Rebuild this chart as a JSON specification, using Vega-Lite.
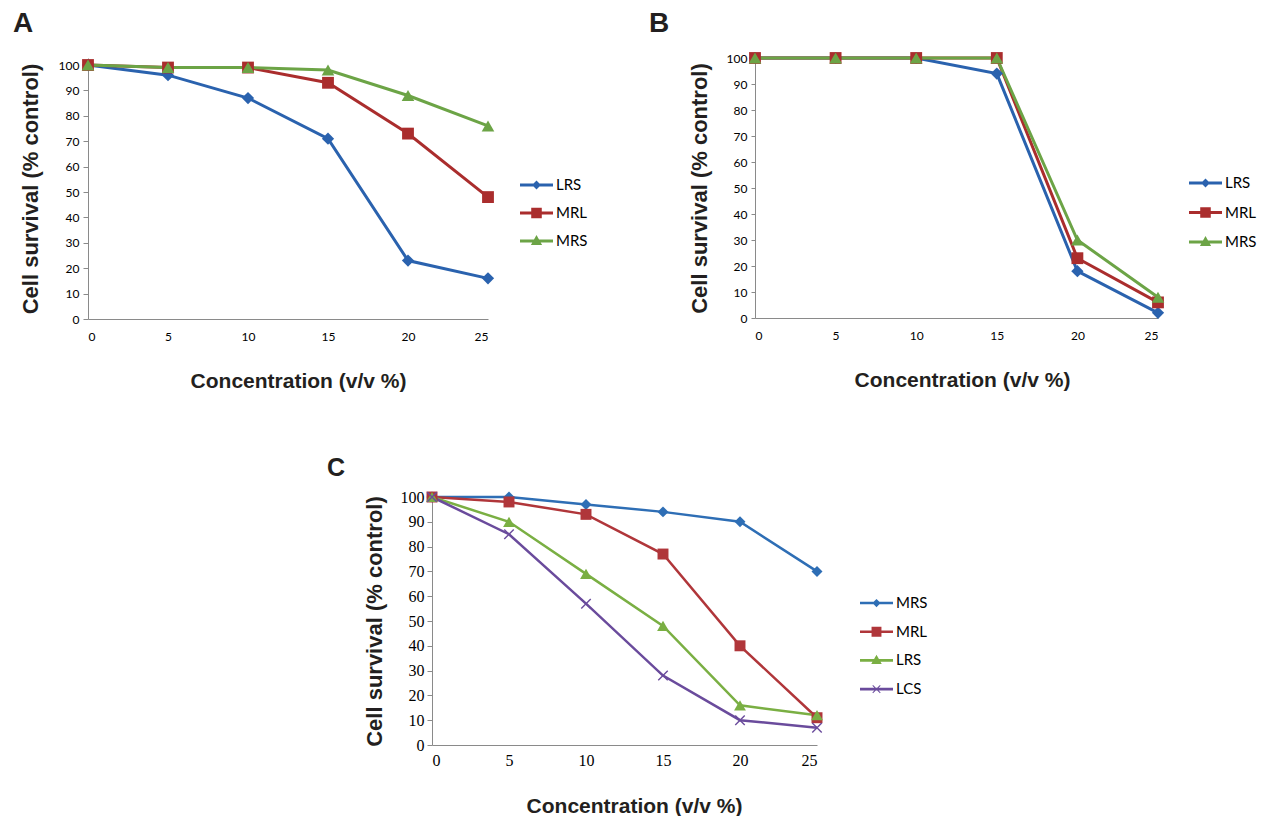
{
  "$schema": "https://vega.github.io/schema/vega-lite/v6.json",
  "background": "white",
  "padding": {"left": 13, "top": 9, "right": 2, "bottom": 0},
  "datasets": {
    "A": [
      {"series": "LRS", "conc": 0, "survival": 100}, {"series": "LRS", "conc": 5, "survival": 96}, {"series": "LRS", "conc": 10, "survival": 87}, {"series": "LRS", "conc": 15, "survival": 71}, {"series": "LRS", "conc": 20, "survival": 23}, {"series": "LRS", "conc": 25, "survival": 16},
      {"series": "MRL", "conc": 0, "survival": 100}, {"series": "MRL", "conc": 5, "survival": 99}, {"series": "MRL", "conc": 10, "survival": 99}, {"series": "MRL", "conc": 15, "survival": 93}, {"series": "MRL", "conc": 20, "survival": 73}, {"series": "MRL", "conc": 25, "survival": 48},
      {"series": "MRS", "conc": 0, "survival": 100}, {"series": "MRS", "conc": 5, "survival": 99}, {"series": "MRS", "conc": 10, "survival": 99}, {"series": "MRS", "conc": 15, "survival": 98}, {"series": "MRS", "conc": 20, "survival": 88}, {"series": "MRS", "conc": 25, "survival": 76}
    ],
    "B": [
      {"series": "LRS", "conc": 0, "survival": 100}, {"series": "LRS", "conc": 5, "survival": 100}, {"series": "LRS", "conc": 10, "survival": 100}, {"series": "LRS", "conc": 15, "survival": 94}, {"series": "LRS", "conc": 20, "survival": 18}, {"series": "LRS", "conc": 25, "survival": 2},
      {"series": "MRL", "conc": 0, "survival": 100}, {"series": "MRL", "conc": 5, "survival": 100}, {"series": "MRL", "conc": 10, "survival": 100}, {"series": "MRL", "conc": 15, "survival": 100}, {"series": "MRL", "conc": 20, "survival": 23}, {"series": "MRL", "conc": 25, "survival": 6},
      {"series": "MRS", "conc": 0, "survival": 100}, {"series": "MRS", "conc": 5, "survival": 100}, {"series": "MRS", "conc": 10, "survival": 100}, {"series": "MRS", "conc": 15, "survival": 100}, {"series": "MRS", "conc": 20, "survival": 30}, {"series": "MRS", "conc": 25, "survival": 8}
    ],
    "C": [
      {"series": "MRS", "conc": 0, "survival": 100}, {"series": "MRS", "conc": 5, "survival": 100}, {"series": "MRS", "conc": 10, "survival": 97}, {"series": "MRS", "conc": 15, "survival": 94}, {"series": "MRS", "conc": 20, "survival": 90}, {"series": "MRS", "conc": 25, "survival": 70},
      {"series": "MRL", "conc": 0, "survival": 100}, {"series": "MRL", "conc": 5, "survival": 98}, {"series": "MRL", "conc": 10, "survival": 93}, {"series": "MRL", "conc": 15, "survival": 77}, {"series": "MRL", "conc": 20, "survival": 40}, {"series": "MRL", "conc": 25, "survival": 11},
      {"series": "LRS", "conc": 0, "survival": 100}, {"series": "LRS", "conc": 5, "survival": 90}, {"series": "LRS", "conc": 10, "survival": 69}, {"series": "LRS", "conc": 15, "survival": 48}, {"series": "LRS", "conc": 20, "survival": 16}, {"series": "LRS", "conc": 25, "survival": 12},
      {"series": "LCS", "conc": 0, "survival": 100}, {"series": "LCS", "conc": 5, "survival": 85}, {"series": "LCS", "conc": 10, "survival": 57}, {"series": "LCS", "conc": 15, "survival": 28}, {"series": "LCS", "conc": 20, "survival": 10}, {"series": "LCS", "conc": 25, "survival": 7}
    ]
  },
  "config": {
    "view": {"stroke": null},
    "axis": {"grid": false, "domainColor": "#8a8a8a", "tickColor": "#8a8a8a", "labelColor": "#000000", "titleColor": "#231f20", "titleFont": "Liberation Sans", "titleFontWeight": "bold", "labelFont": "Lato", "labelFontSize": 12},
    "legend": {"labelFont": "Lato", "labelFontSize": 15, "labelColor": "#000000"},
    "title": {"font": "Liberation Sans", "fontWeight": "bold", "color": "#231f20", "anchor": "start", "frame": "group"}
  },
  "spacing": 65,
  "resolve": {"scale": {"color": "independent", "fill": "independent", "shape": "independent"}},
  "vconcat": [
    {
      "spacing": 61,
      "resolve": {"scale": {"color": "independent", "fill": "independent", "shape": "independent"}},
      "hconcat": [
        {
          "title": {"text": "A", "dx": -75, "offset": 20, "fontSize": 28},
          "width": 400, "height": 261,
          "data": {"name": "A"},
          "encoding": {
            "x": {"field": "conc", "type": "quantitative", "scale": {"domain": [0, 25], "nice": false, "zero": false},
                  "axis": {"values": [0, 5, 10, 15, 20, 25], "title": "Concentration (v/v %)", "ticks": false, "tickSize": 0, "labelPadding": 12, "titlePadding": 28, "titleFontSize": 21, "titleX": 210}},
            "y": {"field": "survival", "type": "quantitative", "scale": {"domain": [0, 102.76], "nice": false},
                  "axis": {"values": [0, 10, 20, 30, 40, 50, 60, 70, 80, 90, 100], "title": "Cell survival (% control)", "tickSize": 5, "labelPadding": 4, "titlePadding": 16, "titleFontSize": 22}}
          },
          "layer": [
            {"mark": {"type": "line", "strokeWidth": 3}, "encoding": {"color": {"field": "series", "type": "nominal", "scale": {"domain": ["MRS", "MRL", "LRS"], "range": ["#6CA446", "#AA2D2D", "#2A62AE"]}, "legend": null}}},
            {"transform": [{"filter": "datum.series === 'LRS'"}], "mark": {"type": "point", "shape": "diamond", "filled": true, "opacity": 1, "size": 150, "strokeWidth": 0}, "encoding": {"color": {"field": "series", "type": "nominal", "scale": {"domain": ["MRS", "MRL", "LRS"], "range": ["#6CA446", "#AA2D2D", "#2A62AE"]}, "legend": null}}},
            {"transform": [{"filter": "datum.series === 'MRL'"}], "mark": {"type": "point", "shape": "square", "filled": true, "opacity": 1, "size": 140, "strokeWidth": 0}, "encoding": {"color": {"field": "series", "type": "nominal", "scale": {"domain": ["MRS", "MRL", "LRS"], "range": ["#6CA446", "#AA2D2D", "#2A62AE"]}, "legend": null}}},
            {"transform": [{"filter": "datum.series === 'MRS'"}], "mark": {"type": "point", "shape": "triangle-up", "filled": true, "opacity": 1, "size": 160, "strokeWidth": 0}, "encoding": {"color": {"field": "series", "type": "nominal", "scale": {"domain": ["MRS", "MRL", "LRS"], "range": ["#6CA446", "#AA2D2D", "#2A62AE"]}, "legend": null}}},
            {"mark": {"type": "point", "filled": true, "opacity": 0},
             "encoding": {
               "fill": {"field": "series", "type": "nominal", "scale": {"domain": ["LRS", "MRL", "MRS"], "range": ["#2A62AE", "#AA2D2D", "#6CA446"]},
                        "legend": {"title": null, "orient": "none", "legendX": 432, "legendY": 119, "direction": "vertical", "symbolSize": 1089, "symbolStrokeWidth": 0, "clipHeight": 16, "rowPadding": 12, "labelOffset": 3, "padding": 0, "symbolOpacity": 1}},
               "shape": {"field": "series", "type": "nominal", "scale": {"domain": ["LRS", "MRL", "MRS"], "range": [
                  "M-1,-0.09L1,-0.09L1,0.09L-1,0.09Z M0,-0.27L0.27,0L0,0.27L-0.27,0Z",
                  "M-1,-0.09L1,-0.09L1,0.09L-1,0.09Z M-0.32,-0.32L0.32,-0.32L0.32,0.32L-0.32,0.32Z",
                  "M-1,-0.09L1,-0.09L1,0.09L-1,0.09Z M0,-0.36L0.34,0.24L-0.34,0.24Z"]},
                        "legend": {"title": null, "orient": "none", "legendX": 432, "legendY": 119, "direction": "vertical", "symbolSize": 1089, "symbolStrokeWidth": 0, "clipHeight": 16, "rowPadding": 12, "labelOffset": 3, "padding": 0, "symbolOpacity": 1}}
             }}
          ]
        },
        {
          "title": {"text": "B", "dx": -106, "offset": 14, "fontSize": 28},
          "width": 403, "height": 260,
          "data": {"name": "B"},
          "encoding": {
            "x": {"field": "conc", "type": "quantitative", "scale": {"domain": [0, 25], "nice": false, "zero": false},
                  "axis": {"values": [0, 5, 10, 15, 20, 25], "title": "Concentration (v/v %)", "ticks": false, "tickSize": 0, "labelPadding": 12, "titlePadding": 28, "titleFontSize": 21, "titleX": 207}},
            "y": {"field": "survival", "type": "quantitative", "scale": {"domain": [0, 100], "nice": false},
                  "axis": {"values": [0, 10, 20, 30, 40, 50, 60, 70, 80, 90, 100], "title": "Cell survival (% control)", "tickSize": 4, "labelPadding": 4, "titlePadding": 15, "titleFontSize": 22}}
          },
          "layer": [
            {"mark": {"type": "line", "strokeWidth": 3}, "encoding": {"color": {"field": "series", "type": "nominal", "scale": {"domain": ["MRS", "MRL", "LRS"], "range": ["#6CA446", "#AA2D2D", "#2A62AE"]}, "legend": null}}},
            {"transform": [{"filter": "datum.series === 'LRS'"}], "mark": {"type": "point", "shape": "diamond", "filled": true, "opacity": 1, "size": 150, "strokeWidth": 0}, "encoding": {"color": {"field": "series", "type": "nominal", "scale": {"domain": ["MRS", "MRL", "LRS"], "range": ["#6CA446", "#AA2D2D", "#2A62AE"]}, "legend": null}}},
            {"transform": [{"filter": "datum.series === 'MRL'"}], "mark": {"type": "point", "shape": "square", "filled": true, "opacity": 1, "size": 140, "strokeWidth": 0}, "encoding": {"color": {"field": "series", "type": "nominal", "scale": {"domain": ["MRS", "MRL", "LRS"], "range": ["#6CA446", "#AA2D2D", "#2A62AE"]}, "legend": null}}},
            {"transform": [{"filter": "datum.series === 'MRS'"}], "mark": {"type": "point", "shape": "triangle-up", "filled": true, "opacity": 1, "size": 160, "strokeWidth": 0}, "encoding": {"color": {"field": "series", "type": "nominal", "scale": {"domain": ["MRS", "MRL", "LRS"], "range": ["#6CA446", "#AA2D2D", "#2A62AE"]}, "legend": null}}},
            {"mark": {"type": "point", "filled": true, "opacity": 0},
             "encoding": {
               "fill": {"field": "series", "type": "nominal", "scale": {"domain": ["LRS", "MRL", "MRS"], "range": ["#2A62AE", "#AA2D2D", "#6CA446"]},
                        "legend": {"title": null, "orient": "none", "legendX": 434, "legendY": 117, "direction": "vertical", "symbolSize": 1089, "symbolStrokeWidth": 0, "clipHeight": 16, "rowPadding": 13.5, "labelOffset": 3, "padding": 0, "symbolOpacity": 1}},
               "shape": {"field": "series", "type": "nominal", "scale": {"domain": ["LRS", "MRL", "MRS"], "range": [
                  "M-1,-0.09L1,-0.09L1,0.09L-1,0.09Z M0,-0.27L0.27,0L0,0.27L-0.27,0Z",
                  "M-1,-0.09L1,-0.09L1,0.09L-1,0.09Z M-0.32,-0.32L0.32,-0.32L0.32,0.32L-0.32,0.32Z",
                  "M-1,-0.09L1,-0.09L1,0.09L-1,0.09Z M0,-0.36L0.34,0.24L-0.34,0.24Z"]},
                        "legend": {"title": null, "orient": "none", "legendX": 434, "legendY": 117, "direction": "vertical", "symbolSize": 1089, "symbolStrokeWidth": 0, "clipHeight": 16, "rowPadding": 13.5, "labelOffset": 3, "padding": 0, "symbolOpacity": 1}}
             }}
          ]
        }
      ]
    },
    {
      "spacing": 0,
      "resolve": {"scale": {"color": "independent", "fill": "independent", "shape": "independent"}},
      "hconcat": [
        {"width": 239, "height": 1, "data": {"values": [{}]}, "mark": {"type": "point", "opacity": 0}},
        {
          "title": {"text": "C", "dx": -105, "offset": 8, "fontSize": 25},
          "width": 385, "height": 248,
          "data": {"name": "C"},
          "encoding": {
            "x": {"field": "conc", "type": "quantitative", "scale": {"domain": [0, 25], "nice": false, "zero": false},
                  "axis": {"values": [0, 5, 10, 15, 20, 25], "title": "Concentration (v/v %)", "ticks": false, "tickSize": 0, "labelPadding": 7, "titlePadding": 27, "titleFontSize": 21, "titleX": 202, "labelFont": "Liberation Serif", "labelFontSize": 16}},
            "y": {"field": "survival", "type": "quantitative", "scale": {"domain": [0, 100], "nice": false},
                  "axis": {"values": [0, 10, 20, 30, 40, 50, 60, 70, 80, 90, 100], "title": "Cell survival (% control)", "tickSize": 5, "labelPadding": 3, "titlePadding": 14, "titleFontSize": 22, "labelFont": "Liberation Serif", "labelFontSize": 16}}
          },
          "layer": [
            {"mark": {"type": "line", "strokeWidth": 2.5}, "encoding": {"color": {"field": "series", "type": "nominal", "scale": {"domain": ["LCS", "LRS", "MRL", "MRS"], "range": ["#6A4B9C", "#7AAF43", "#B0363A", "#2E6EB5"]}, "legend": null}}},
            {"transform": [{"filter": "datum.series === 'MRS'"}], "mark": {"type": "point", "shape": "diamond", "filled": true, "opacity": 1, "size": 120, "strokeWidth": 0}, "encoding": {"color": {"field": "series", "type": "nominal", "scale": {"domain": ["LCS", "LRS", "MRL", "MRS"], "range": ["#6A4B9C", "#7AAF43", "#B0363A", "#2E6EB5"]}, "legend": null}}},
            {"transform": [{"filter": "datum.series === 'MRL'"}], "mark": {"type": "point", "shape": "square", "filled": true, "opacity": 1, "size": 120, "strokeWidth": 0}, "encoding": {"color": {"field": "series", "type": "nominal", "scale": {"domain": ["LCS", "LRS", "MRL", "MRS"], "range": ["#6A4B9C", "#7AAF43", "#B0363A", "#2E6EB5"]}, "legend": null}}},
            {"transform": [{"filter": "datum.series === 'LRS'"}], "mark": {"type": "point", "shape": "triangle-up", "filled": true, "opacity": 1, "size": 140, "strokeWidth": 0}, "encoding": {"color": {"field": "series", "type": "nominal", "scale": {"domain": ["LCS", "LRS", "MRL", "MRS"], "range": ["#6A4B9C", "#7AAF43", "#B0363A", "#2E6EB5"]}, "legend": null}}},
            {"transform": [{"filter": "datum.series === 'LCS'"}], "mark": {"type": "point", "shape": "M-1,-1L1,1M-1,1L1,-1", "filled": false, "opacity": 1, "size": 90, "strokeWidth": 1.4}, "encoding": {"color": {"field": "series", "type": "nominal", "scale": {"domain": ["LCS", "LRS", "MRL", "MRS"], "range": ["#6A4B9C", "#7AAF43", "#B0363A", "#2E6EB5"]}, "legend": null}}},
            {"mark": {"type": "point", "filled": true, "opacity": 0},
             "encoding": {
               "fill": {"field": "series", "type": "nominal", "scale": {"domain": ["MRS", "MRL", "LRS", "LCS"], "range": ["#2E6EB5", "#B0363A", "#7AAF43", "#6A4B9C"]},
                        "legend": {"title": null, "orient": "none", "legendX": 428, "legendY": 98, "direction": "vertical", "symbolSize": 1089, "symbolStrokeWidth": 0, "clipHeight": 16, "rowPadding": 12.7, "labelOffset": 3, "padding": 0, "symbolOpacity": 1}},
               "shape": {"field": "series", "type": "nominal", "scale": {"domain": ["MRS", "MRL", "LRS", "LCS"], "range": [
                  "M-1,-0.08L1,-0.08L1,0.08L-1,0.08Z M0,-0.25L0.25,0L0,0.25L-0.25,0Z",
                  "M-1,-0.08L1,-0.08L1,0.08L-1,0.08Z M-0.3,-0.3L0.3,-0.3L0.3,0.3L-0.3,0.3Z",
                  "M-1,-0.08L1,-0.08L1,0.08L-1,0.08Z M0,-0.34L0.32,0.22L-0.32,0.22Z",
                  "M-1,-0.08L1,-0.08L1,0.08L-1,0.08Z M-0.25,-0.21L-0.21,-0.25L0.25,0.21L0.21,0.25Z M-0.25,0.21L0.21,-0.25L0.25,-0.21L-0.21,0.25Z"]},
                        "legend": {"title": null, "orient": "none", "legendX": 428, "legendY": 98, "direction": "vertical", "symbolSize": 1089, "symbolStrokeWidth": 0, "clipHeight": 16, "rowPadding": 12.7, "labelOffset": 3, "padding": 0, "symbolOpacity": 1}}
             }}
          ]
        }
      ]
    }
  ]
}
